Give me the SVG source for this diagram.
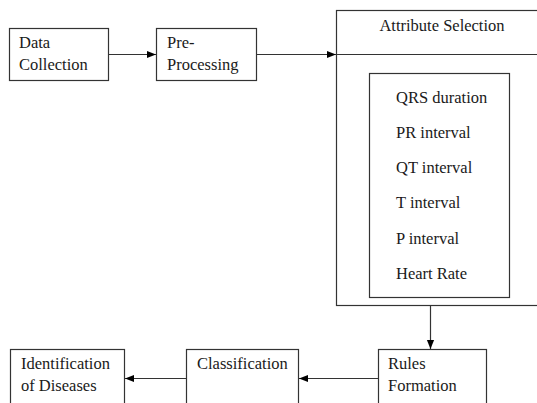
<svg xmlns="http://www.w3.org/2000/svg" width="537" height="403" viewBox="0 0 537 403">
<style>
.box{fill:#fff;stroke:#333;stroke-width:1.2}
.t{font-family:"Liberation Serif","Times New Roman",serif;font-size:16.5px;fill:#1a1a1a}
.c{stroke:#333;stroke-width:1.2;fill:none}
</style>
<defs>
<marker id="ah" viewBox="0 0 10 10" refX="10" refY="5" markerWidth="9" markerHeight="9" markerUnits="userSpaceOnUse" orient="auto">
<path d="M0,1 L10,5 L0,9 Z" fill="#000"/>
</marker>
</defs>
<rect width="537" height="403" fill="#fff"/>
<g id="data-collection">
<rect class="box" x="9.5" y="28.5" width="99" height="52"/>
<text class="t" x="19" y="48">Data</text>
<text class="t" x="19" y="70">Collection</text>
</g>
<g id="pre-processing">
<rect class="box" x="156.5" y="28.5" width="100" height="52"/>
<text class="t" x="167" y="48">Pre-</text>
<text class="t" x="167" y="70">Processing</text>
</g>
<g id="attribute-selection">
<rect class="box" x="336.5" y="10.5" width="210" height="295"/>
<line class="c" x1="336.5" y1="54.5" x2="546" y2="54.5"/>
<text class="t" x="442" y="31" text-anchor="middle">Attribute Selection</text>
<rect class="box" x="369.5" y="73.5" width="140" height="224"/>
<text class="t" x="396" y="103">QRS duration</text>
<text class="t" x="396" y="138">PR interval</text>
<text class="t" x="396" y="173">QT interval</text>
<text class="t" x="396" y="208">T interval</text>
<text class="t" x="396" y="244">P interval</text>
<text class="t" x="396" y="279">Heart Rate</text>
</g>
<g id="rules-formation">
<rect class="box" x="378.5" y="349.5" width="108" height="60"/>
<text class="t" x="388" y="369">Rules</text>
<text class="t" x="388" y="391">Formation</text>
</g>
<g id="classification">
<rect class="box" x="186.5" y="349.5" width="112" height="60"/>
<text class="t" x="197" y="369">Classification</text>
</g>
<g id="identification">
<rect class="box" x="10.5" y="349.5" width="114" height="60"/>
<text class="t" x="21" y="369">Identification</text>
<text class="t" x="21" y="391">of Diseases</text>
</g>
<g id="connectors">
<line class="c" x1="108.5" y1="54.5" x2="156" y2="54.5" marker-end="url(#ah)"/>
<line class="c" x1="256.5" y1="54.5" x2="336" y2="54.5" marker-end="url(#ah)"/>
<line class="c" x1="430.5" y1="305.5" x2="430.5" y2="349" marker-end="url(#ah)"/>
<line class="c" x1="378.5" y1="378.5" x2="299" y2="378.5" marker-end="url(#ah)"/>
<line class="c" x1="186.5" y1="378.5" x2="125" y2="378.5" marker-end="url(#ah)"/>
</g>
</svg>
